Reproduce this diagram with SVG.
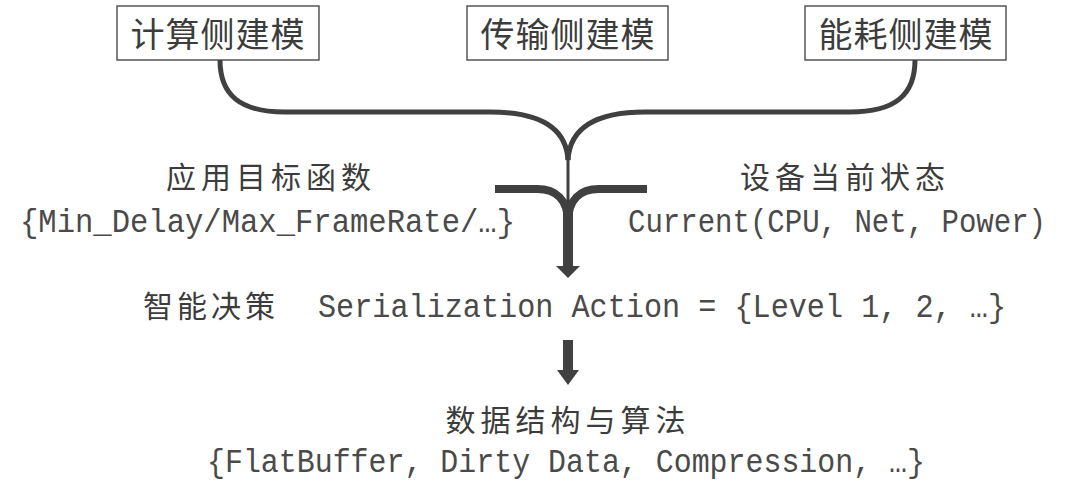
<svg xmlns="http://www.w3.org/2000/svg" width="1080" height="500" viewBox="0 0 1080 500">
<style>
.box{fill:#fff;stroke:#555;stroke-width:1.5}
.cjk{font-family:"Noto Sans CJK SC","Noto Sans",sans-serif;fill:#3c3c3c}
.mono{font-family:"Liberation Mono","DejaVu Sans Mono",monospace;font-size:33px;fill:#4a4a4a}
.line{fill:none;stroke:#404040;stroke-linecap:butt}
</style>
<rect width="1080" height="500" fill="#fff"/>
<g id="node-compute">
<rect class="box" x="117" y="6" width="202" height="54"/>
<text class="cjk" x="218" y="47" font-size="34" text-anchor="middle" letter-spacing="1">计算侧建模</text>
</g>
<g id="node-transfer">
<rect class="box" x="467" y="6" width="201" height="54"/>
<text class="cjk" x="568" y="47" font-size="34" text-anchor="middle" letter-spacing="1">传输侧建模</text>
</g>
<g id="node-energy">
<rect class="box" x="805" y="6" width="201" height="54"/>
<text class="cjk" x="906" y="47" font-size="34" text-anchor="middle" letter-spacing="1">能耗侧建模</text>
</g>
<g id="connectors">
<path class="line" stroke-width="5" d="M220,60 C220,95 240,112 285,112 L490,112 C535,112 566,125 568,160"/>
<path class="line" stroke-width="5" d="M915,60 C915,95 895,112 850,112 L645,112 C600,112 570,125 568,160"/>
<path class="line" stroke-width="3" d="M568,155 L568,208"/>
<path class="line" stroke-width="8" d="M495,189 L537,189 C556,189 568,200 568,222"/>
<path class="line" stroke-width="8" d="M647,189 L599,189 C580,189 568,200 568,222"/>
<path class="line" stroke-width="10" d="M568,205 L568,268"/>
<polygon points="556,266 580,266 568,278" fill="#404040"/>
<path class="line" stroke-width="10" d="M568,340 L568,372"/>
<polygon points="557,370 579,370 568,385" fill="#404040"/>
</g>
<g id="node-objective">
<text class="cjk" x="271" y="188" font-size="30" text-anchor="middle" letter-spacing="5">应用目标函数</text>
<text class="mono" x="20" y="231.5" textLength="495" lengthAdjust="spacingAndGlyphs">{Min_Delay/Max_FrameRate/…}</text>
</g>
<g id="node-state">
<text class="cjk" x="845" y="188" font-size="30" text-anchor="middle" letter-spacing="5">设备当前状态</text>
<text class="mono" x="628" y="231.5" font-size="30" textLength="418" lengthAdjust="spacingAndGlyphs">Current(CPU, Net, Power)</text>
</g>
<g id="node-decision">
<text class="cjk" x="143" y="317" font-size="30" letter-spacing="4">智能决策</text>
<text class="mono" x="318" y="316.5" textLength="688" lengthAdjust="spacingAndGlyphs">Serialization Action = {Level 1, 2, …}</text>
</g>
<g id="node-data">
<text class="cjk" x="568" y="431" font-size="30" text-anchor="middle" letter-spacing="5">数据结构与算法</text>
<text class="mono" x="207" y="471.5" textLength="718" lengthAdjust="spacingAndGlyphs">{FlatBuffer, Dirty Data, Compression, …}</text>
</g>
</svg>
